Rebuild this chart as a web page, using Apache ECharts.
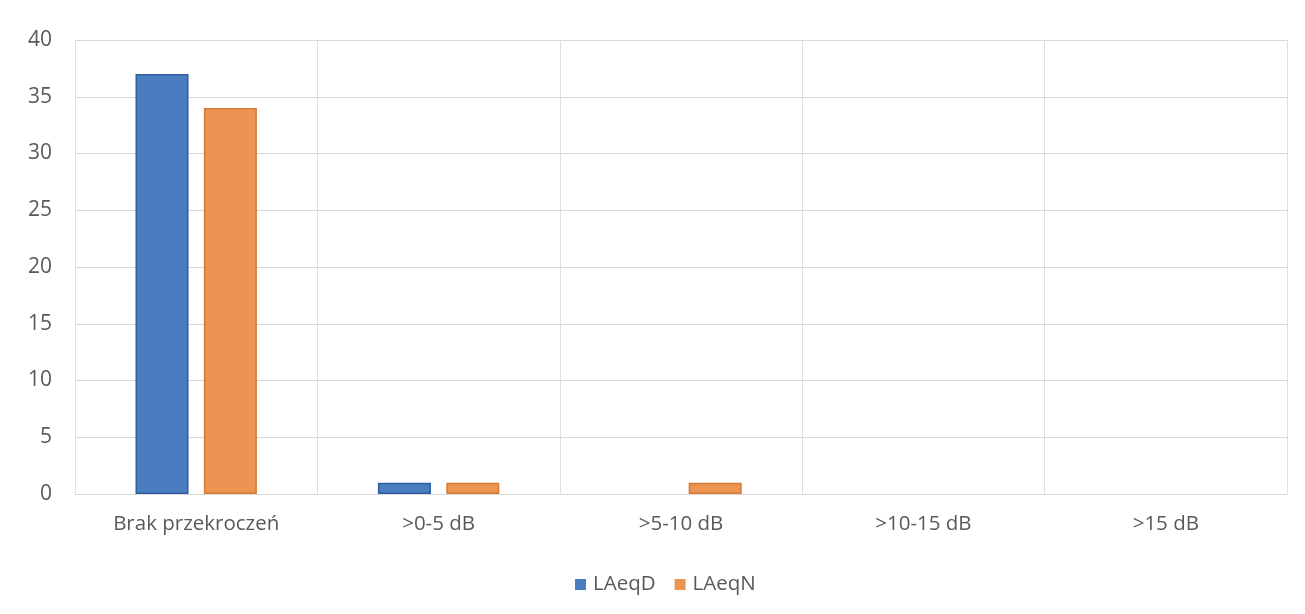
<!DOCTYPE html>
<html>
<head>
<meta charset="utf-8">
<script src="https://cdn.jsdelivr.net/npm/echarts@6/dist/echarts.min.js"></script>
<style>
  html, body { margin: 0; padding: 0; background: #ffffff; }
  #chart { width: 1305px; height: 614px; }
</style>
</head>
<body>
<div id="chart"></div>
<script>
// Exceedance classes of noise limits
const categories = ['Brak przekroczeń', '>0-5 dB', '>5-10 dB', '>10-15 dB', '>15 dB'];
const seriesNames = ['LAeqD', 'LAeqN'];
const laeqD = [37, 1, 0, 0, 0];
const laeqN = [34, 1, 1, 0, 0];

const chart = echarts.init(document.getElementById('chart'));
const labelFont = '"Open Sans", "Noto Sans", "DejaVu Sans", sans-serif';
const textColor = '#595959';

// zero-height bars get no outline so they stay invisible
function barItems(values, border) {
  return values.map(v => ({
    value: v,
    itemStyle: { borderColor: border, borderWidth: v > 0 ? 1.5 : 0 }
  }));
}

chart.setOption({
  animation: false,
  backgroundColor: '#ffffff',
  textStyle: { fontFamily: labelFont },
  grid: { left: 75, right: 18, top: 40, bottom: 120, containLabel: false },
  legend: {
    data: seriesNames,
    top: 569,
    left: 570,
    itemWidth: 11,
    itemHeight: 11,
    itemGap: 19,
    icon: 'rect',
    textStyle: { color: textColor, fontSize: 20.5, fontFamily: labelFont, padding: [0, 0, 0, 2] }
  },
  xAxis: {
    type: 'category',
    data: categories,
    axisLine: { show: true, lineStyle: { color: '#d9d9d9' } },
    axisTick: { show: false },
    splitLine: { show: true, lineStyle: { color: '#e0e0e0' } },
    axisLabel: { color: textColor, fontSize: 20.5, margin: 20, fontFamily: labelFont, interval: 0 }
  },
  yAxis: {
    type: 'value',
    min: 0,
    max: 40,
    interval: 5,
    axisLine: { show: false },
    axisTick: { show: false },
    splitLine: { show: true, lineStyle: { color: '#d9d9d9' } },
    axisLabel: { color: textColor, fontSize: 21, margin: 23, fontFamily: labelFont }
  },
  series: [
    {
      name: seriesNames[0],
      type: 'bar',
      data: barItems(laeqD, '#2d5f9f'),
      barWidth: 53,
      barGap: '29%',
      itemStyle: { color: '#4a7dc0' }
    },
    {
      name: seriesNames[1],
      type: 'bar',
      data: barItems(laeqN, '#d67a36'),
      barWidth: 53,
      itemStyle: { color: '#ec9552' }
    }
  ]
});
</script>
</body>
</html>
